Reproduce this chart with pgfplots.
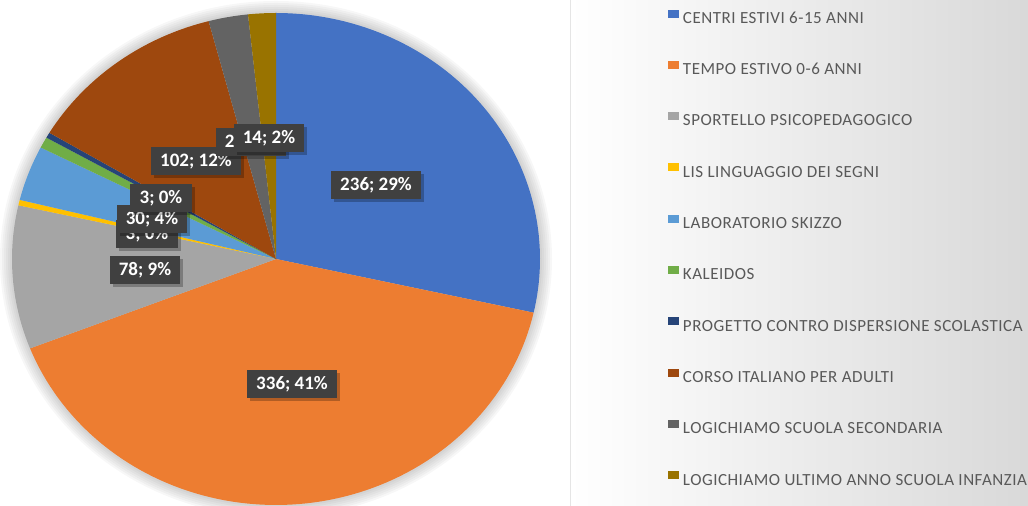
\documentclass[border=0pt]{standalone}
\usepackage{pgfplots}
\pgfplotsset{compat=1.18}
\usepackage{pgfplotstable}
\usepackage{fontspec}
\setmainfont{Carlito}
\newfontfamily\legfont[LetterSpace=3]{Carlito}
\usetikzlibrary{shadows}
\definecolor{cA}{HTML}{4472C4}
\definecolor{cB}{HTML}{ED7D31}
\definecolor{cC}{HTML}{A5A5A5}
\definecolor{cD}{HTML}{FFC000}
\definecolor{cE}{HTML}{5B9BD5}
\definecolor{cF}{HTML}{70AD47}
\definecolor{cG}{HTML}{264478}
\definecolor{cH}{HTML}{9E480E}
\definecolor{cI}{HTML}{636363}
\definecolor{cJ}{HTML}{997300}
\definecolor{legtext}{HTML}{595959}
\definecolor{labfill}{HTML}{404040}

\pgfplotstableread[col sep=comma]{
label,value,color
CENTRI ESTIVI 6-15 ANNI,236,cA
TEMPO ESTIVO 0-6 ANNI,336,cB
SPORTELLO PSICOPEDAGOGICO,78,cC
LIS LINGUAGGIO DEI SEGNI,3,cD
LABORATORIO SKIZZO,30,cE
KALEIDOS,6,cF
PROGETTO CONTRO DISPERSIONE SCOLASTICA,3,cG
CORSO ITALIANO PER ADULTI,102,cH
LOGICHIAMO SCUOLA SECONDARIA,20,cI
LOGICHIAMO ULTIMO ANNO SCUOLA INFANZIA,14,cJ
}\piedata

\tikzset{lab/.style={fill=labfill, text=white, font=\bfseries\fontsize{9.5}{10}\selectfont,
  inner xsep=4.6pt, inner ysep=3pt, text height=6.6pt, text depth=1.4pt,
  general shadow={fill=black, opacity=0.25, shadow xshift=1.5pt, shadow yshift=-1.5pt}}}

\begin{document}
\begin{tikzpicture}
\pgfplotstablegetrowsof{\piedata}
\pgfmathtruncatemacro\nrows{\pgfplotsretval-1}
\def\total{0}
\pgfplotsforeachungrouped \i in {0,...,\nrows}{%
  \pgfplotstablegetelem{\i}{value}\of\piedata
  \pgfmathsetmacro\total{\total+\pgfplotsretval}}
\begin{axis}[width=514pt, height=253pt, scale only axis, hide axis,
  xmin=0, xmax=1028, ymin=0, ymax=506, y dir=reverse,
  legend cell align=left,
  legend image code/.code={\fill[#1] (0pt,0.4pt) rectangle (5.3pt,4.4pt);},
  legend style={at={(0.6498,0.982)}, anchor=north west, draw=none, fill=none,
    inner sep=0pt, font=\legfont\fontsize{8.5}{9}\selectfont, text=legtext,
    row sep=17.75pt, nodes={inner sep=0pt, text height=6pt, text depth=1pt},
    /tikz/every odd column/.append style={column sep=2pt}}]
% legend panel
\shade[left color=white, right color=black!15] (axis cs:570,0) rectangle (axis cs:1028,506);
\draw[black!10] (axis cs:570,0) -- (axis cs:570,506);
% soft shadow round the pie
\pgfplotsinvokeforeach{276,274,272,270,268,266}{
  \fill[black, opacity=0.03] (axis cs:276,259) ellipse [x radius=#1, y radius=#1-18];}
\def\cum{0}
\pgfplotsforeachungrouped \i in {0,...,\nrows}{%
  \pgfplotstablegetelem{\i}{value}\of\piedata \let\slval\pgfplotsretval
  \pgfplotstablegetelem{\i}{color}\of\piedata \let\slcol\pgfplotsretval
  \pgfplotstablegetelem{\i}{label}\of\piedata \let\sllab\pgfplotsretval
  \pgfmathsetmacro\sa{\cum/\total*360}
  \pgfmathsetmacro\cum{\cum+\slval}
  \pgfmathsetmacro\sb{\cum/\total*360}
  \edef\temp{\noexpand\addplot[fill=\slcol, draw=none, domain=\sa:\sb, samples=90]
    ({276+264*sin(x)},{259-246*cos(x)}) -- (axis cs:276,259) -- cycle;
    \noexpand\addlegendentry{\sllab}}
  \temp
}
% data labels
\node[lab] at (axis cs:376,185) {236; 29\%};
\node[lab] at (axis cs:292,384) {336; 41\%};
\node[lab] at (axis cs:145,270) {78; 9\%};
\node[lab] at (axis cs:147,234) {3; 0\%};
\node[lab] at (axis cs:152,219) {30; 4\%};
\node[lab] at (axis cs:161,198) {3; 0\%};
\node[lab] at (axis cs:196,161) {102; 12\%};
\node[lab] at (axis cs:251,142) {20; 2\%};
\node[lab] at (axis cs:269,138) {14; 2\%};
\end{axis}
\end{tikzpicture}
\end{document}
